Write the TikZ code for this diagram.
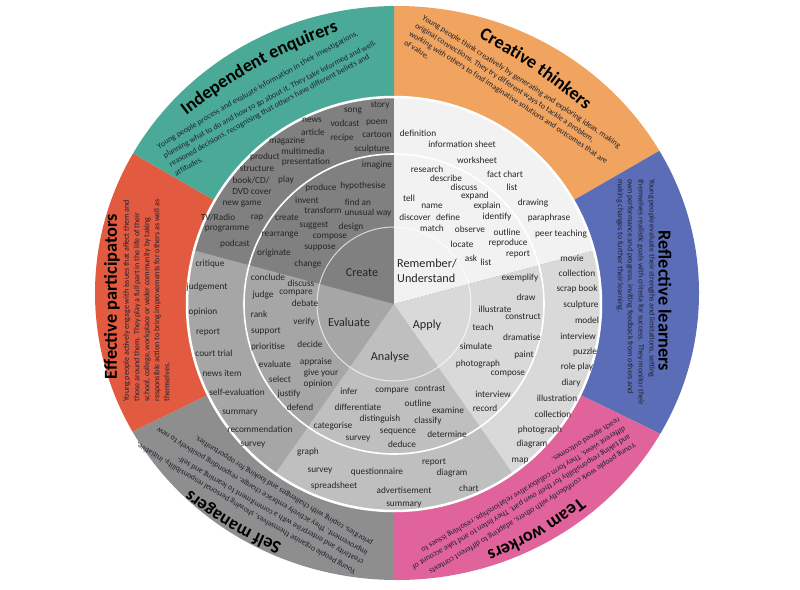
\documentclass[tikz,border=0pt]{standalone}
\usepackage{fontspec}
\setmainfont{Carlito}
\usetikzlibrary{decorations.text,calc}
\definecolor{cTeal}{HTML}{4BAA97}
\definecolor{cOrange}{HTML}{F0A45F}
\definecolor{cBlue}{HTML}{5B6DB6}
\definecolor{cPink}{HTML}{E0649B}
\definecolor{cGrayO}{HTML}{8E8E8E}
\definecolor{cRed}{HTML}{E25A3F}
\definecolor{sCreate}{HTML}{808080}
\definecolor{sEval}{HTML}{A6A6A6}
\definecolor{sAnal}{HTML}{BFBFBF}
\definecolor{sApply}{HTML}{D9D9D9}
\definecolor{sRem}{HTML}{F2F2F2}
\definecolor{txt}{HTML}{262626}
\definecolor{dtxt}{HTML}{1E2030}
\newcommand\wordfont{\fontsize{9.3}{10.5}\selectfont}
\newcommand\lblfont{\fontsize{12.2}{14.8}\selectfont}
\newcommand\descfont{\fontsize{8}{9}\selectfont}
\newcommand\titlefont{\fontsize{18.3}{20}\selectfont\bfseries}
\tikzset{
  word/.style={font=\wordfont,text=txt,inner sep=0pt},
  lbl/.style={font=\lblfont,text=txt,inner sep=0pt},
  vdesc/.style={font=\descfont,text=dtxt,inner sep=0pt,anchor=west},
  vtitle/.style={font=\titlefont,text=black,inner sep=0pt},
  dleft/.style={decorate,decoration={text along path,text align=left,text color=dtxt,text={|\descfont|#1}}},
  ttext/.style={decorate,decoration={text along path,text align=center,text color=black,text={|\titlefont|#1}}}
}
\newcommand\dline[4][1.5]{\path[dleft={#4}] (#2) to[bend left=#1] ($(#2)!1.25!(#3)$);}
\begin{document}
\begin{tikzpicture}[x=1pt,y=1pt]
\useasboundingbox (0,-589) rectangle (800,0);
\fill[white] (0,-589) rectangle (800,0);
\coordinate (C) at (394,-304);
\coordinate (O) at (397,-293);
% outer PLTS ring
\begin{scope}
\clip (O) ellipse [x radius=302, y radius=287];
\fill[cOrange] (C) -- +(90:700) -- +(60:700) -- +(30:700) -- cycle;
\fill[cBlue] (C) -- +(30:700) -- +(0:700) -- +(-26:700) -- cycle;
\fill[cPink] (C) -- +(-26:700) -- +(-58:700) -- +(-90:700) -- cycle;
\fill[cGrayO] (C) -- +(-90:700) -- +(-122:700) -- +(-154:700) -- cycle;
\fill[cRed] (C) -- +(-154:700) -- +(180:700) -- +(150:700) -- cycle;
\fill[cTeal] (C) -- +(150:700) -- +(120:700) -- +(90:700) -- cycle;
\end{scope}
% inner rings
\fill[sCreate] (C) -- ++(90:207) arc[start angle=90, end angle=165, radius=207] -- cycle;
\fill[sEval] (C) -- ++(165:207) arc[start angle=165, end angle=235, radius=207] -- cycle;
\fill[sAnal] (C) -- ++(235:207) arc[start angle=235, end angle=305, radius=207] -- cycle;
\fill[sApply] (C) -- ++(305:207) arc[start angle=305, end angle=375, radius=207] -- cycle;
\fill[sRem] (C) -- ++(15:207) arc[start angle=15, end angle=90, radius=207] -- cycle;
\draw[white, line width=2.5] (C) circle[radius=207];
\draw[white, line width=1.6] (C) circle[radius=150];
\draw[white, opacity=0.7, line width=1] (C) circle[radius=77];
% pie labels
\node[lbl] (lCreate) at (362,-273) {Create};
\node[lbl, align=left, anchor=west] (lRem) at (397,-270.5) {Remember/\\Understand};
\node[lbl] (lEval) at (349,-322) {Evaluate};
\node[lbl] (lApply) at (427,-325) {Apply};
\node[lbl] (lAnal) at (390,-357) {Analyse};
% Create products
\node[word] (cp1) at (380,-105) {story};
\node[word] (cp2) at (353,-111) {song};
\node[word] (cp3) at (377,-123) {poem};
\node[word] (cp4) at (312,-120) {news};
\node[word] (cp5) at (345,-123) {vodcast};
\node[word] (cp6) at (313,-132) {article};
\node[word] (cp7) at (377,-135) {cartoon};
\node[word] (cp8) at (342,-138) {recipe};
\node[word] (cp9) at (287,-141) {magazine};
\node[word] (cp10) at (303,-151) {multimedia};
\node[word] (cp11) at (372,-149) {sculpture};
\node[word] (cp12) at (265,-157) {product};
\node[word] (cp13) at (306,-162) {presentation};
\node[word] (cp14) at (257,-169) {structure};
\node[word] (cp15) at (251,-180) {book/CD/};
\node[word] (cp16) at (286,-180) {play};
\node[word] (cp17) at (252,-192) {DVD cover};
\node[word] (cp18) at (242,-204) {new game};
\node[word] (cp19) at (218,-217) {TV/Radio};
\node[word] (cp20) at (257,-218) {rap};
\node[word] (cp21) at (227,-229) {programme};
\node[word] (cp22) at (235,-244) {podcast};
% Create verbs
\node[word] (cv1) at (377,-165) {imagine};
\node[word] (cv2) at (321,-188) {produce};
\node[word] (cv3) at (363,-186) {hypothesise};
\node[word] (cv4) at (307,-200) {invent};
\node[word] (cv5) at (358,-202) {find an};
\node[word] (cv6) at (323,-210) {transform};
\node[word] (cv7) at (368,-213) {unusual way};
\node[word] (cv8) at (287,-218) {create};
\node[word] (cv9) at (314,-225) {suggest};
\node[word] (cv10) at (351,-227) {design};
\node[word] (cv11) at (280,-235) {rearrange};
\node[word] (cv12) at (330,-237) {compose};
\node[word] (cv13) at (320,-248) {suppose};
\node[word] (cv14) at (274,-253) {originate};
\node[word] (cv15) at (308,-264) {change};
% Remember products
\node[word] (rp1) at (418,-133) {definition};
\node[word] (rp2) at (462,-144) {information sheet};
\node[word] (rp3) at (477,-160) {worksheet};
\node[word] (rp4) at (505,-174) {fact chart};
\node[word] (rp5) at (512,-187) {list};
\node[word] (rp6) at (533,-203) {drawing};
\node[word] (rp7) at (549,-218) {paraphrase};
\node[word] (rp8) at (561,-234) {peer teaching};
% Remember verbs
\node[word] (rv1) at (427,-169) {research};
\node[word] (rv2) at (446,-178) {describe};
\node[word] (rv3) at (464,-187) {discuss};
\node[word] (rv4) at (409,-198) {tell};
\node[word] (rv5) at (475,-196) {expand};
\node[word] (rv6) at (432,-206) {name};
\node[word] (rv7) at (487,-206) {explain};
\node[word] (rv8) at (415,-217) {discover};
\node[word] (rv9) at (448,-217) {define};
\node[word] (rv10) at (497,-217) {identify};
\node[word] (rv11) at (432,-228) {match};
\node[word] (rv12) at (470,-229) {observe};
\node[word] (rv13) at (507,-232) {outline};
\node[word] (rv14) at (462,-244) {locate};
\node[word] (rv15) at (508,-243) {reproduce};
\node[word] (rv16) at (471,-258) {ask};
\node[word] (rv17) at (518,-254) {report};
\node[word] (rv18) at (486,-262) {list};
% Apply verbs
\node[word] (av1) at (520,-278) {exemplify};
\node[word] (av2) at (526,-297) {draw};
\node[word] (av3) at (495,-309) {illustrate};
\node[word] (av4) at (523,-317) {construct};
\node[word] (av5) at (483,-327) {teach};
\node[word] (av6) at (522,-337) {dramatise};
\node[word] (av7) at (476,-346) {simulate};
\node[word] (av8) at (524,-355) {paint};
\node[word] (av9) at (478,-364) {photograph};
\node[word] (av10) at (508,-374) {compose};
\node[word] (av11) at (493,-394) {interview};
\node[word] (av12) at (485,-408) {record};
% Apply products
\node[word] (ap1) at (572,-258) {movie};
\node[word] (ap2) at (577,-273) {collection};
\node[word] (ap3) at (577,-289) {scrap book};
\node[word] (ap4) at (581,-305) {sculpture};
\node[word] (ap5) at (587,-320) {model};
\node[word] (ap6) at (578,-336) {interview};
\node[word] (ap7) at (585,-352) {puzzle};
\node[word] (ap8) at (577,-367) {role play};
\node[word] (ap9) at (571,-383) {diary};
\node[word] (ap10) at (557,-398) {illustration};
\node[word] (ap11) at (553,-414) {collection};
\node[word] (ap12) at (540,-430) {photograph};
\node[word] (ap13) at (532,-444) {diagram};
\node[word] (ap14) at (520,-461) {map};
% Analyse verbs
\node[word] (nv1) at (349,-391) {infer};
\node[word] (nv2) at (392,-391) {compare};
\node[word] (nv3) at (430,-389) {contrast};
\node[word] (nv4) at (358,-407) {differentiate};
\node[word] (nv5) at (418,-403) {outline};
\node[word] (nv6) at (448,-410) {examine};
\node[word] (nv7) at (380,-419) {distinguish};
\node[word] (nv8) at (428,-421) {classify};
\node[word] (nv9) at (333,-426) {categorise};
\node[word] (nv10) at (398,-432) {sequence};
\node[word] (nv11) at (447,-434) {determine};
\node[word] (nv12) at (358,-439) {survey};
\node[word] (nv13) at (402,-444) {deduce};
% Analyse products
\node[word] (np1) at (308,-452) {graph};
\node[word] (np2) at (434,-462) {report};
\node[word] (np3) at (320,-471) {survey};
\node[word] (np4) at (377,-472) {questionnaire};
\node[word] (np5) at (452,-473) {diagram};
\node[word] (np6) at (334,-486) {spreadsheet};
\node[word] (np7) at (404,-490) {advertisement};
\node[word] (np8) at (469,-488) {chart};
\node[word] (np9) at (404,-505) {summary};
% Evaluate verbs
\node[word] (ev1) at (268,-277) {conclude};
\node[word] (ev2) at (301,-283) {discuss};
\node[word] (ev3) at (263,-295) {judge};
\node[word] (ev4) at (296,-293) {compare};
\node[word] (ev5) at (305,-303) {debate};
\node[word] (ev6) at (259,-314) {rank};
\node[word] (ev7) at (304,-322) {verify};
\node[word] (ev8) at (266,-331) {support};
\node[word] (ev9) at (268,-347) {prioritise};
\node[word] (ev10) at (310,-344) {decide};
\node[word] (ev11) at (275,-364) {evaluate};
\node[word] (ev12) at (316,-362) {appraise};
\node[word] (ev13) at (280,-379) {select};
\node[word] (ev14) at (321,-373) {give your};
\node[word] (ev15) at (318,-384) {opinion};
\node[word] (ev16) at (289,-394) {justify};
\node[word] (ev17) at (300,-407) {defend};
% Evaluate products
\node[word] (ep1) at (210,-264) {critique};
\node[word] (ep2) at (207,-287) {judgement};
\node[word] (ep3) at (203,-312) {opinion};
\node[word] (ep4) at (208,-332) {report};
\node[word] (ep5) at (214,-353) {court trial};
\node[word] (ep6) at (222,-373) {news item};
\node[word] (ep7) at (237,-392) {self-evaluation};
\node[word] (ep8) at (240,-413) {summary};
\node[word] (ep9) at (260,-429) {recommendation};
\node[word] (ep10) at (253,-445) {survey};
% Independent enquirers
\path[ttext={Independent enquirers}] (182,-118.5) to[bend left=9] (344,-29.5);
\dline{159,-149}{366,-33}{Young people process and evaluate information in their investigations,}
\dline{165,-158}{374,-48}{planning what to do and how to go about it. They take informed and well-}
\dline{171,-167}{373,-59}{reasoned decisions, recognising that others have different beliefs and}
\path[dleft={attitudes.}] (176,-176) to[bend left=1] (229,-148);
% Creative thinkers
\path[ttext={Creative thinkers}] (474.7,-35.5) to[bend left=6] (588.7,-113.5);
\dline{421.6,-19.1}{621.6,-152.1}{Young people think creatively by generating and exploring ideas, making}
\dline{414.6,-27.1}{596.6,-147.1}{original connections. They try different ways to tackle a problem,}
\dline{408.6,-35.1}{611.6,-170.1}{working with others to find imaginative solutions and outcomes that are}
\path[dleft={of value.}] (403.6,-44.1) to[bend left=1] (453.6,-77.3);
% Reflective learners
\node[vtitle, rotate=-90] (rlT) at (665,-301) {Reflective learners};
\node[vdesc, rotate=-90] (rl1) at (651.7,-179) {Young people evaluate their strengths and limitations, setting};
\node[vdesc, rotate=-90] (rl2) at (640.7,-179) {themselves realistic goals with criteria for success. They monitor their};
\node[vdesc, rotate=-90] (rl3) at (630,-179) {own performance and progress, inviting feedback from others and};
\node[vdesc, rotate=-90] (rl4) at (620,-179) {making changes to further their learning.};
% Team workers
\path[ttext={Team workers}] (581,-496) to[bend left=8] (485,-552);
\dline{633.7,-442.9}{420,-574}{Young people work confidently with others, adapting to different contexts}
\dline{628.7,-434.4}{408,-566}{and taking responsibility for their own part. They listen to and take account of}
\dline{623.5,-426}{414,-551}{different views. They form collaborative relationships, resolving issues to}
\path[dleft={reach agreed outcomes.}] (618,-417.4) to[bend left=1] (540,-465);
% Self managers
\path[ttext={Self managers}] (287,-545.5) to[bend left=8] (186,-486.5);
\dline{356.2,-570.9}{134.2,-437.9}{Young people organise themselves, showing personal responsibility, initiative,}
\dline{364.2,-560.9}{171.2,-449.9}{creativity and enterprise with a commitment to learning and self-}
\dline{368.2,-551.9}{151.2,-420.9}{improvement. They actively embrace change, responding positively to new}
\dline{373.2,-541.9}{191.2,-430.9}{priorities, coping with challenges and looking for opportunities.}
% Effective participators
\node[vtitle, rotate=90] (epT) at (112,-296.5) {Effective participators};
\node[vdesc, rotate=90] (ed1) at (126.7,-401.7) {Young people actively engage with issues that affect them and};
\node[vdesc, rotate=90] (ed2) at (137.3,-401.7) {those around them. They play a full part in the life of their};
\node[vdesc, rotate=90] (ed3) at (147.3,-401.7) {school, college, workplace or wider community by taking};
\node[vdesc, rotate=90] (ed4) at (157.3,-401.7) {responsible action to bring improvements for others as well as};
\node[vdesc, rotate=90] (ed5) at (166.7,-401.7) {themselves.};
\end{tikzpicture}
\end{document}
